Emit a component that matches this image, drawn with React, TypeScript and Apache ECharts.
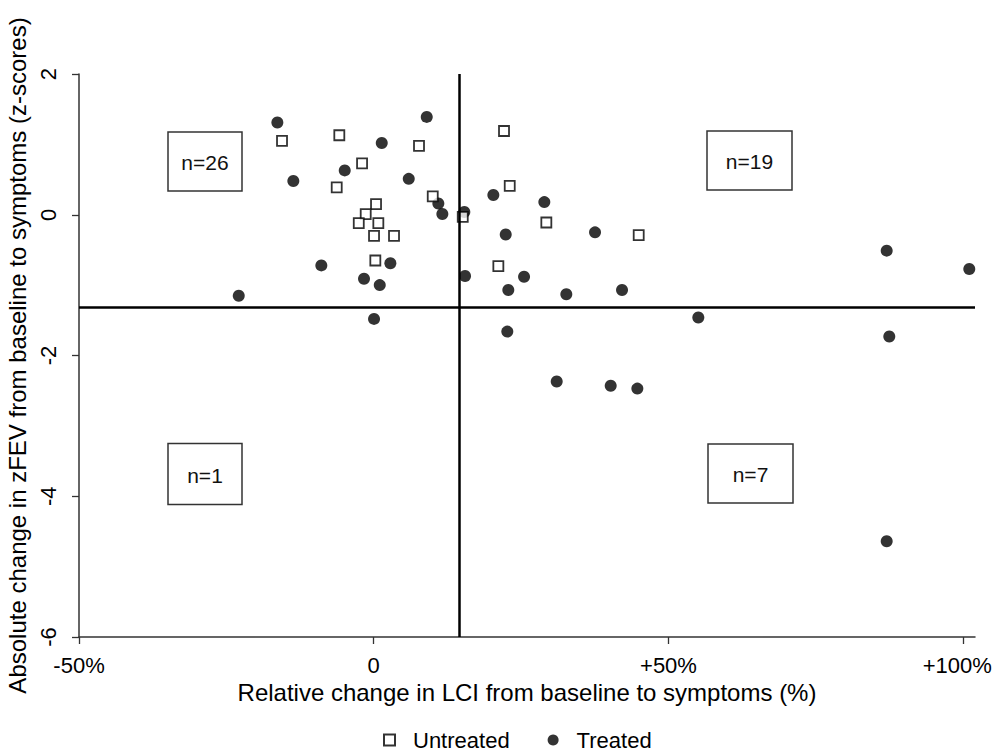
import React, { useEffect, useRef } from "react";
import * as echarts from "echarts";

// ---- data ----
const untreatedX = [-15.56, -5.84, 7.68, -1.98, -6.28, 10.01, 0.39, -1.36, -2.54, 0.78, 0.05, 3.44, 0.27, 15.1, 22.1, 23.07, 29.28, 44.95, 21.14];
const untreatedY = [1.05, 1.13, 0.98, 0.73, 0.39, 0.26, 0.15, 0.01, -0.12, -0.12, -0.3, -0.3, -0.65, -0.03, 1.19, 0.41, -0.11, -0.29, -0.73];

const treatedX = [-16.35, 1.36, 8.99, -4.92, -13.64, 5.94, 10.96, 11.64, 2.82, -8.89, -1.65, 1.02, -22.9, 0.05, 15.37, 15.49, 20.29, 28.94, 22.39, 37.54, 25.5, 22.83, 32.67, 42.12, 87.02, 101.03, 55.06, 22.66, 87.46, 31.04, 40.2, 44.72, 87.02];
const treatedY = [1.31, 1.02, 1.39, 0.63, 0.48, 0.51, 0.16, 0.01, -0.69, -0.72, -0.91, -1.0, -1.15, -1.48, 0.04, -0.87, 0.28, 0.18, -0.28, -0.25, -0.88, -1.07, -1.13, -1.07, -0.51, -0.77, -1.46, -1.66, -1.73, -2.37, -2.43, -2.47, -4.64];

const xTickValues = [-50, 0, 50, 100];
const xTickLabels = ["-50%", "0", "+50%", "+100%"];
const yTickLabels = ["-6", "-4", "-2", "0", "2"];

const cutX = 14.5;
const cutY = -1.31;

const quadrantLabels = ["n=26", "n=19", "n=1", "n=7"];

const FONT = "'Liberation Sans', Arial, sans-serif";

export default function App() {
  const ref = useRef<HTMLDivElement>(null);

  useEffect(() => {
    if (!ref.current) return;
    const chart = echarts.init(ref.current, undefined, { renderer: "svg" });

    const untreated = untreatedX.map((x, i) => [x, untreatedY[i]]);
    const treated = treatedX.map((x, i) => [x, treatedY[i]]);

    const boxes = [
      { cx: 205, cy: 161.5, w: 74, h: 59, text: quadrantLabels[0] },
      { cx: 749.5, cy: 160.5, w: 85, h: 59, text: quadrantLabels[1] },
      { cx: 205, cy: 474, w: 74, h: 61, text: quadrantLabels[2] },
      { cx: 750.5, cy: 473.5, w: 85, h: 59, text: quadrantLabels[3] },
    ];

    const graphic: any[] = [];
    boxes.forEach((b) => {
      graphic.push({
        type: "rect",
        shape: { x: b.cx - b.w / 2, y: b.cy - b.h / 2, width: b.w, height: b.h },
        style: { fill: "#fff", stroke: "#333", lineWidth: 1.5 },
        z: 10,
      });
      graphic.push({
        type: "text",
        x: b.cx,
        y: b.cy + 1,
        style: {
          text: b.text,
          fontSize: 21,
          fontFamily: FONT,
          fill: "#111",
          align: "center",
          verticalAlign: "middle",
        },
        z: 11,
      });
    });

    chart.setOption({
      animation: false,
      backgroundColor: "#fff",
      textStyle: { fontFamily: FONT },
      grid: {
        left: 79,
        top: 74,
        width: 896,
        height: 563,
        containLabel: false,
        outerBoundsMode: "none",
      },
      legend: {
        data: ["Untreated", "Treated"],
        left: 383,
        top: 729,
        padding: 0,
        itemWidth: 11,
        itemHeight: 11,
        itemGap: 38,
        textStyle: { fontSize: 22, fontFamily: FONT, color: "#000", padding: [0, 0, 0, 13] },
      },
      xAxis: {
        type: "value",
        min: -50,
        max: 102,
        splitLine: { show: false },
        axisLine: { onZero: false, lineStyle: { color: "#333", width: 1.5 } },
        axisTick: { show: true, length: 7, customValues: xTickValues, lineStyle: { color: "#333", width: 1.3 } },
        axisLabel: {
          customValues: xTickValues,
          margin: 17,
          fontSize: 22,
          fontFamily: FONT,
          color: "#000",
          formatter: (v: number) => {
            const i = xTickValues.indexOf(v);
            if (i < 0) return "";
            return i === xTickValues.length - 1 ? "{r|" + xTickLabels[i] + "}" : xTickLabels[i];
          },
          rich: {
            r: { fontSize: 22, fontFamily: FONT, color: "#000", padding: [0, 12, 0, 0] },
          },
        },
        name: "Relative change in LCI from baseline to symptoms (%)",
        nameLocation: "middle",
        nameGap: 41,
        nameTextStyle: { fontSize: 24, fontFamily: FONT, color: "#000" },
      },
      yAxis: {
        type: "value",
        min: -6,
        max: 2,
        interval: 2,
        splitLine: { show: false },
        axisLine: { onZero: false, lineStyle: { color: "#333", width: 1.5 } },
        axisTick: { show: true, length: 7, lineStyle: { color: "#333", width: 1.3 } },
        axisLabel: {
          rotate: 90,
          margin: 20,
          fontSize: 22,
          fontFamily: FONT,
          color: "#000",
          formatter: (v: number) => {
            const s = String(v);
            return yTickLabels.indexOf(s) >= 0 ? s : "";
          },
        },
        name: "Absolute change in zFEV from baseline to symptoms (z-scores)",
        nameLocation: "middle",
        nameGap: 50,
        nameTextStyle: { fontSize: 24, fontFamily: FONT, color: "#000" },
      },
      series: [
        {
          name: "Treated",
          type: "scatter",
          data: treated,
          symbol: "circle",
          symbolSize: 12,
          itemStyle: { color: "#000" },
          z: 3,
          markLine: {
            silent: true,
            symbol: "none",
            label: { show: false },
            lineStyle: { color: "#000", width: 2.5, type: "solid" },
            data: [{ xAxis: cutX }, { yAxis: cutY }],
          },
        },
        {
          name: "Untreated",
          type: "scatter",
          data: untreated,
          symbol: "rect",
          symbolSize: 10,
          itemStyle: { color: "#fff", borderColor: "#000", borderWidth: 1.8 },
          z: 4,
        },
      ],
      graphic,
    });

    return () => chart.dispose();
  }, []);

  return (
    <div
      ref={ref}
      style={{ position: "absolute", left: 0, top: 0, width: 995, height: 752 }}
    />
  );
}
